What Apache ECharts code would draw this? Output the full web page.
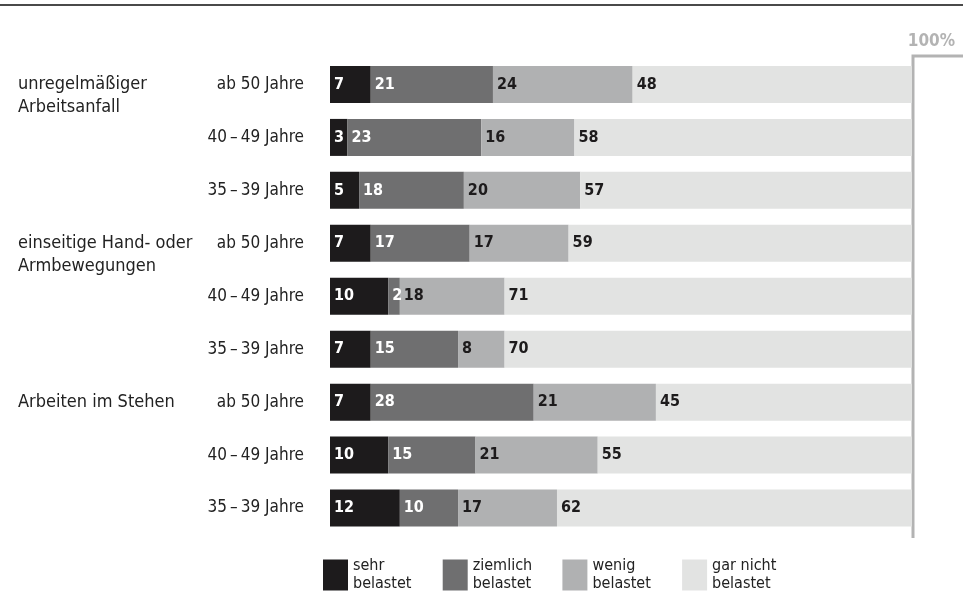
<!DOCTYPE html>
<html><head><meta charset="utf-8">
<script src="https://cdn.jsdelivr.net/npm/echarts@6/dist/echarts.min.js"></script>
<style>html,body{margin:0;padding:0;background:#fff}#c{width:963px;height:611px}</style>
</head><body><div id="c"></div>
<script>
const groupLabels = ['unregelmäßiger\nArbeitsanfall', '', '', 'einseitige Hand- oder\nArmbewegungen', '', '', 'Arbeiten im Stehen', '', ''];
const ageLabels = ['ab 50 Jahre', '40\u2009\u2013\u200949 Jahre', '35\u2009\u2013\u200939 Jahre', 'ab 50 Jahre', '40\u2009\u2013\u200949 Jahre', '35\u2009\u2013\u200939 Jahre', 'ab 50 Jahre', '40\u2009\u2013\u200949 Jahre', '35\u2009\u2013\u200939 Jahre'];
const seriesNames = ['sehr belastet', 'ziemlich belastet', 'wenig belastet', 'gar nicht belastet'];
const sehr = [7, 3, 5, 7, 10, 7, 7, 10, 12];
const ziemlich = [21, 23, 18, 17, 2, 15, 28, 15, 10];
const wenig = [24, 16, 20, 17, 18, 8, 21, 21, 17];
const garNicht = [48, 58, 57, 59, 71, 70, 45, 55, 62];

const FONT = "'Liberation Sans Narrow', 'DejaVu Sans Condensed', 'Roboto Condensed', sans-serif";
const colors = ['#1d1b1c', '#6f6f70', '#b0b1b2', '#e2e3e2'];
const labelColors = ['#ffffff', '#ffffff', '#1d1b1c', '#1d1b1c'];
const values = [sehr, ziemlich, wenig, garNicht];
const cats = ageLabels.map((a, i) => 'r' + i);

const chart = echarts.init(document.getElementById('c'));
const series = seriesNames.map((n, k) => ({
  name: n, type: 'bar', stack: 'all', barWidth: 37, clip: true,
  itemStyle: { color: colors[k] },
  label: { show: true, position: 'insideLeft', distance: 4, color: labelColors[k],
    fontFamily: FONT, fontWeight: 'bold', fontSize: 16 },
  data: values[k]
}));
const legends = seriesNames.map((n, k) => ({
  data: [n], left: 323 + k * 119.7, top: 557, orient: 'horizontal', padding: 0,
  icon: 'rect', itemWidth: 25, itemHeight: 31, selectedMode: false,
  formatter: name => { const i = name.lastIndexOf(' '); return name.slice(0, i) + '\n' + name.slice(i + 1); },
  textStyle: { fontFamily: FONT, fontSize: 16, lineHeight: 18, color: '#222' }
}));
chart.setOption({
  animation: false,
  grid: { left: 330, right: 51, top: 58, bottom: 76.5 },
  xAxis: { type: 'value', min: 0, max: 100, show: false },
  yAxis: [
    { type: 'category', data: cats, inverse: true,
      axisLine: { show: false }, axisTick: { show: false },
      axisLabel: { margin: 26, fontFamily: FONT, fontSize: 17, color: '#222', interval: 0,
        formatter: (v, i) => ageLabels[i] } },
    { type: 'category', data: cats, inverse: true, position: 'left',
      axisLine: { show: false }, axisTick: { show: false },
      axisLabel: { margin: 312, align: 'left', fontFamily: FONT, fontSize: 18, lineHeight: 23, color: '#222', interval: 0,
        formatter: (v, i) => groupLabels[i] ? (groupLabels[i].indexOf('\n') >= 0 ? '\u00a0\n' + groupLabels[i] : groupLabels[i]) : '' } }
  ],
  legend: legends,
  series: series
});
const x100 = chart.convertToPixel({ xAxisIndex: 0 }, 100);
chart.setOption({
  graphic: [
    { type: 'line', shape: { x1: 0, y1: 5, x2: 963, y2: 5 }, style: { stroke: '#4a4a4a', lineWidth: 2 } },
    { type: 'polyline', shape: { points: [[x100 + 1, 538], [x100 + 1, 56], [963, 56]] }, style: { stroke: '#b3b3b3', lineWidth: 3, fill: null } },
    { type: 'text', x: 955, y: 42, style: { text: '100%', fill: '#b3b3b3', fontFamily: FONT, fontWeight: 'bold', fontSize: 17, textAlign: 'right', textVerticalAlign: 'middle' } }
  ]
});
</script></body></html>
